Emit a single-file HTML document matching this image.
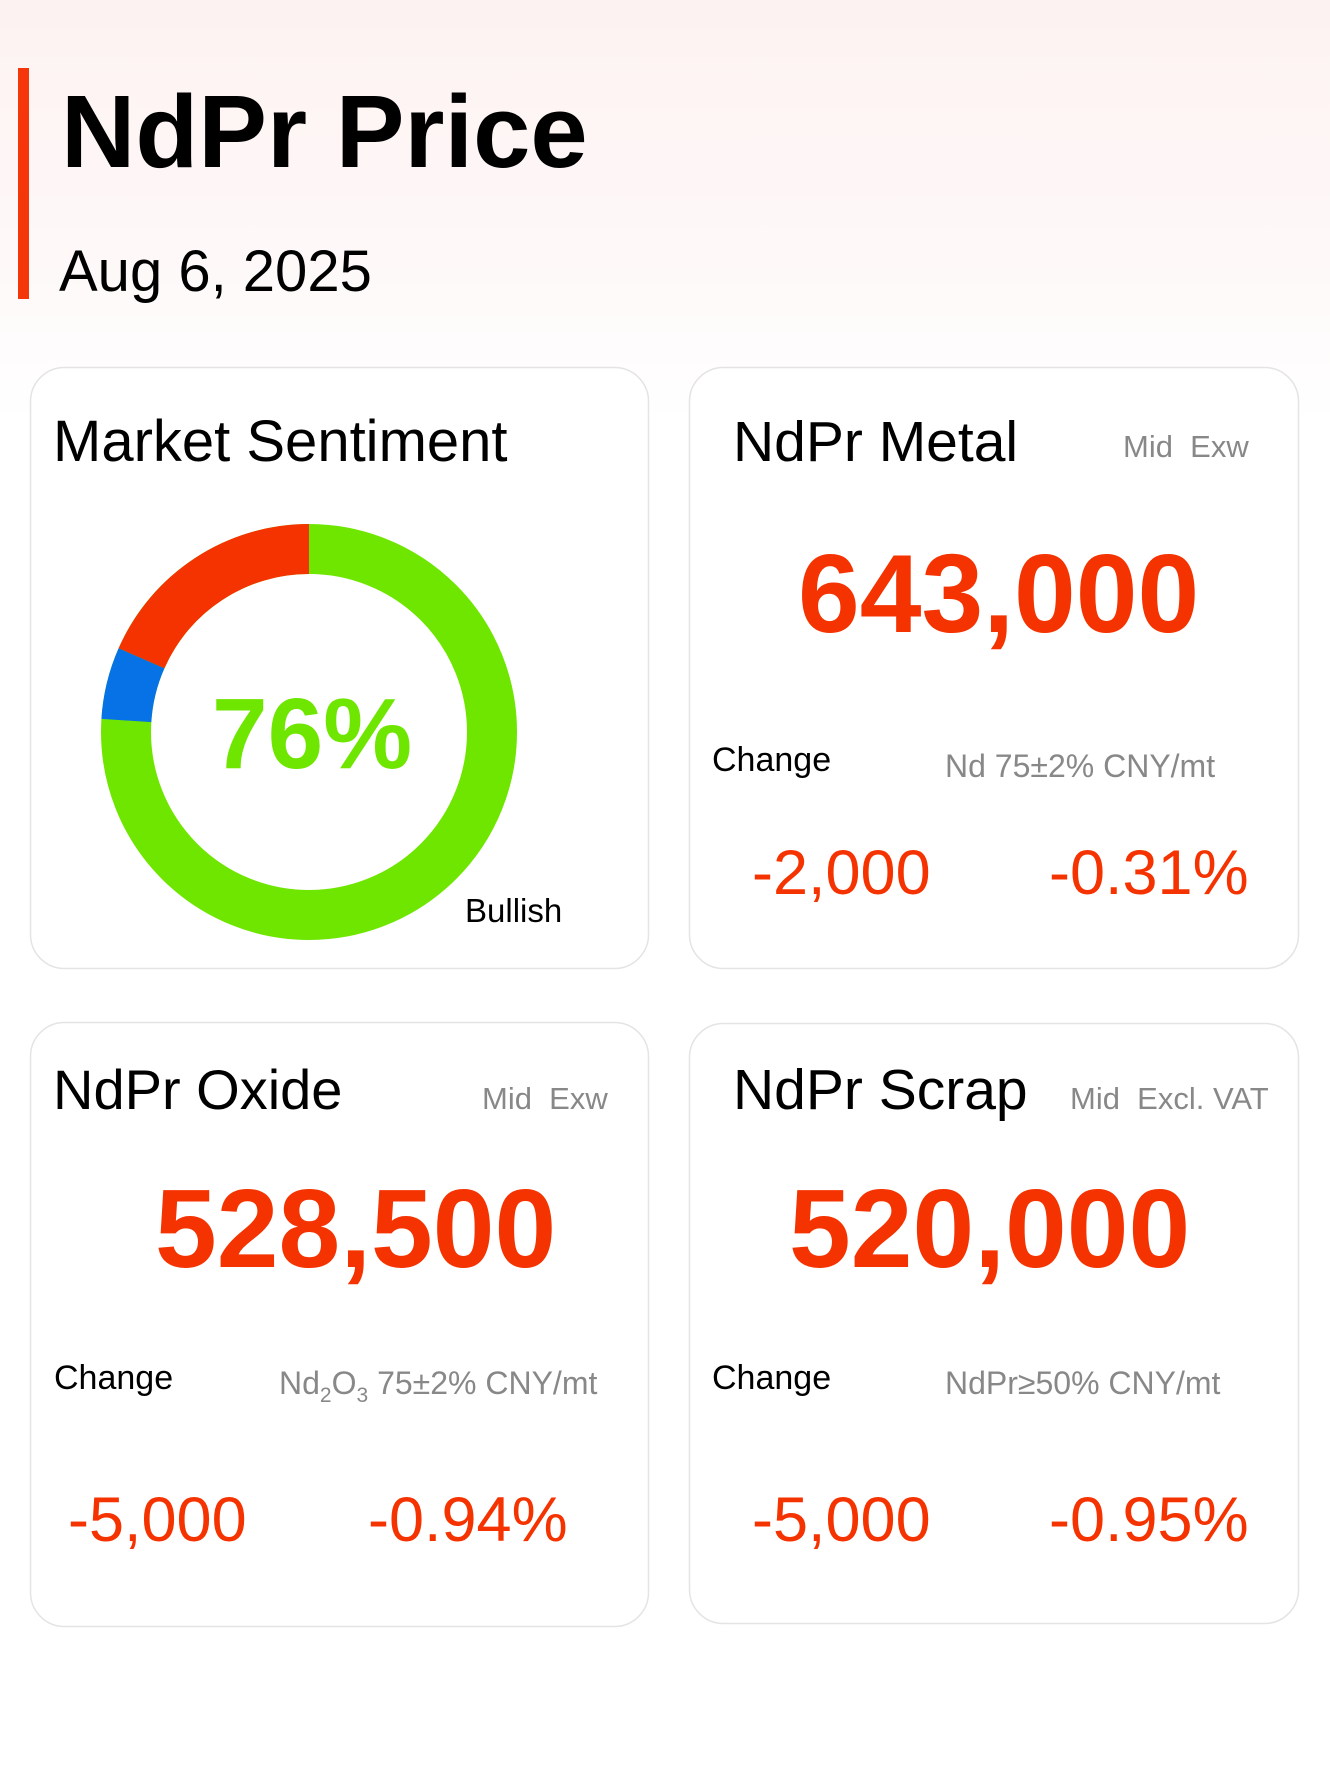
<!DOCTYPE html>
<html><head><meta charset="utf-8"><style>
html,body{margin:0;padding:0;width:1330px;height:1770px;overflow:hidden;background:#fff}
svg{display:block}
text{font-family:"Liberation Sans",sans-serif;white-space:pre}
</style></head><body>
<svg width="1330" height="1770" viewBox="0 0 1330 1770" xmlns="http://www.w3.org/2000/svg">
<defs>
<linearGradient id="bg" x1="0" y1="0" x2="0" y2="1">
<stop offset="0" stop-color="#fdf2f2"/>
<stop offset="0.6" stop-color="#fef8f8"/>
<stop offset="1" stop-color="#ffffff"/>
</linearGradient>
</defs>
<rect x="0" y="0" width="1330" height="1770" fill="#fff"/>
<rect x="0" y="0" width="1330" height="420" fill="url(#bg)"/>
<rect x="18" y="68" width="11" height="231" fill="#f5360a"/>
<text x="61" y="167" font-size="103" font-weight="bold" fill="#000">NdPr Price</text>
<text x="59" y="291" font-size="58" fill="#000">Aug 6, 2025</text>

<rect x="30.5" y="367.5" width="618" height="601" rx="34" fill="#fff" stroke="#e4e4e4" stroke-width="1.5"/>
<rect x="689.5" y="367.5" width="609" height="601" rx="34" fill="#fff" stroke="#e4e4e4" stroke-width="1.5"/>
<rect x="30.5" y="1022.5" width="618" height="604" rx="34" fill="#fff" stroke="#e4e4e4" stroke-width="1.5"/>
<rect x="689.5" y="1023.5" width="609" height="600" rx="34" fill="#fff" stroke="#e4e4e4" stroke-width="1.5"/>

<!-- card 1 -->
<text x="53" y="461" font-size="58" fill="#000">Market Sentiment</text>
<g transform="translate(309,732)">
<circle r="183" fill="none" stroke="#6ee600" stroke-width="50"/>
<path d="M0,-208 A208,208 0 0 0 -190.4,-83.7 L-144.6,-63.6 A158,158 0 0 1 0,-158 Z" fill="#f53300"/>
<path d="M-190.4,-83.7 A208,208 0 0 0 -207.6,-13.1 L-157.7,-9.9 A158,158 0 0 1 -144.6,-63.6 Z" fill="#0672e6"/>
</g>
<text x="212" y="768" font-size="100" font-weight="bold" fill="#6ee600">76%</text>
<text x="465" y="922" font-size="33" fill="#000">Bullish</text>

<!-- card 2 -->
<text x="733" y="461" font-size="57" fill="#000">NdPr Metal</text>
<text x="1123" y="457" font-size="31" fill="#888" xml:space="preserve">Mid  Exw</text>
<text x="798" y="632" font-size="111" font-weight="bold" fill="#f53300">643,000</text>
<text x="712" y="771" font-size="34" fill="#000">Change</text>
<text x="945" y="777" font-size="32" fill="#888">Nd 75±2% CNY/mt</text>
<text x="752" y="894" font-size="63" fill="#f53300">-2,000</text>
<text x="1049" y="894" font-size="63" fill="#f53300">-0.31%</text>

<!-- card 3 -->
<text x="53" y="1109" font-size="56" fill="#000">NdPr Oxide</text>
<text x="482" y="1109" font-size="31" fill="#888" xml:space="preserve">Mid  Exw</text>
<text x="155" y="1267" font-size="111" font-weight="bold" fill="#f53300">528,500</text>
<text x="54" y="1389" font-size="34" fill="#000">Change</text>
<text x="279" y="1394" font-size="32" fill="#888">Nd<tspan font-size="21" dy="8">2</tspan><tspan dy="-8">O</tspan><tspan font-size="21" dy="8">3</tspan><tspan dy="-8"> 75±2% CNY/mt</tspan></text>
<text x="68" y="1541" font-size="63" fill="#f53300">-5,000</text>
<text x="368" y="1541" font-size="63" fill="#f53300">-0.94%</text>

<!-- card 4 -->
<text x="733" y="1109" font-size="57" fill="#000">NdPr Scrap</text>
<text x="1070" y="1109" font-size="31" fill="#888" xml:space="preserve">Mid  Excl. VAT</text>
<text x="789" y="1267" font-size="111" font-weight="bold" fill="#f53300">520,000</text>
<text x="712" y="1389" font-size="34" fill="#000">Change</text>
<text x="945" y="1394" font-size="32" fill="#888">NdPr≥50% CNY/mt</text>
<text x="752" y="1541" font-size="63" fill="#f53300">-5,000</text>
<text x="1049" y="1541" font-size="63" fill="#f53300">-0.95%</text>
</svg>
</body></html>
